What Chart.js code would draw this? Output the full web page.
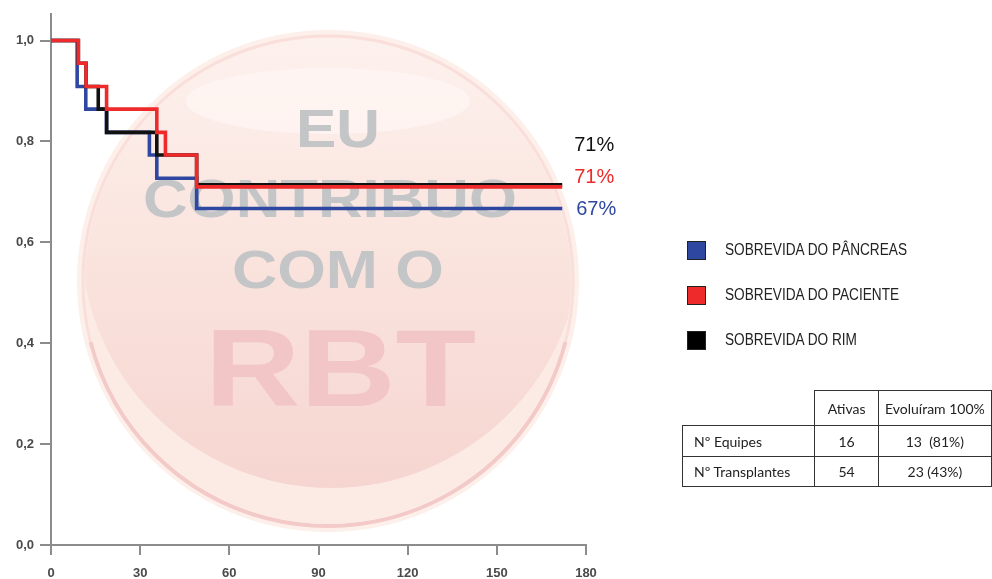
<!DOCTYPE html>
<html>
<head>
<meta charset="utf-8">
<script src="https://cdn.jsdelivr.net/npm/chart.js@4/dist/chart.umd.min.js"></script>
<style>
  html, body { margin: 0; padding: 0; background: #fff; }
  #wrap { position: relative; width: 992px; height: 579px; overflow: hidden; }
  #chart { position: absolute; left: 0; top: 0; }
  .legend { position: absolute; left: 687px; top: 240px; font-family: "Liberation Sans", Arial, sans-serif; font-size: 16px; color: #222; }
  .legend .item { display: flex; align-items: center; height: 20px; margin-bottom: 25px; white-space: nowrap; }
  .legend .box { width: 19px; height: 19px; box-sizing: border-box; border: 1px solid #222; margin-right: 19px; flex: none; }
  .legend .txt { display: inline-block; transform-origin: 0 50%; }
  table.stats { position: absolute; left: 682px; top: 390px; border-collapse: collapse; font-family: Lato, "Open Sans", sans-serif; font-size: 14px; color: #222; }
  table.stats td { border: 1px solid #333; padding: 0; text-align: center; }
  table.stats td.lbl { text-align: left; padding-left: 11px; }
  table.stats td.empty { border-top: none; border-left: none; }
</style>
</head>
<body>
<div id="wrap">
  <canvas id="chart" width="992" height="579"></canvas>
  <div class="legend" id="legend"></div>
  <table class="stats" id="stats"></table>
</div>
<script>
// survival data (months -> survival fraction)
const xTicks = [0, 30, 60, 90, 120, 150, 180];
const yTicks = [0, 0.2, 0.4, 0.6, 0.8, 1.0];

const pancreasTimes = [0, 8.8, 11.7, 18.7, 33.1, 35.6, 49, 172];
const pancreasSurv  = [1.0, 0.909, 0.864, 0.818, 0.773, 0.727, 0.667, 0.667];
const pacienteTimes = [0, 9.2, 11.8, 18.7, 35.6, 38.5, 49, 172];
const pacienteSurv  = [1.0, 0.955, 0.909, 0.864, 0.818, 0.773, 0.710, 0.710];
const rimTimes = [0, 9.2, 11.8, 15.9, 18.7, 35.6, 49, 172];
const rimSurv  = [1.0, 0.955, 0.909, 0.864, 0.818, 0.773, 0.714, 0.714];

const seriesNames  = ['SOBREVIDA DO PÂNCREAS', 'SOBREVIDA DO PACIENTE', 'SOBREVIDA DO RIM'];
const endLabels    = ['67%', '71%', '71%'];
const seriesColors = ['#2e47a0', '#ee2a2a', '#111111'];

const tableHeader = ['', 'Ativas', 'Evoluíram 100%'];
const tableRows = [
  ['Nº Equipes', '16', '13  (81%)'],
  ['Nº Transplantes', '54', '23 (43%)']
];

function toPoints(xs, ys) {
  return xs.map((x, i) => ({x: x, y: ys[i]}));
}

// legend + table (html)
var legendEl = document.getElementById('legend');
var txtSpans = [];
seriesNames.forEach((name, i) => {
  var it = document.createElement('div');
  it.className = 'item';
  it.innerHTML = '<span class="box" style="background:' + (i == 2 ? '#000' : seriesColors[i]) + '"></span><span class="txt">' + name + '</span>';
  legendEl.appendChild(it);
  txtSpans.push(it.querySelector('.txt'));
});
// condensed look: squeeze so the first label is ~182px wide
var squeeze = 182 / txtSpans[0].getBoundingClientRect().width;
txtSpans.forEach(s => { s.style.transform = 'scaleX(' + squeeze + ')'; });

var tbl = document.getElementById('stats');
var colW = [126, 68, 115];
var rowH = [34, 30, 29];
[tableHeader].concat(tableRows).forEach((row, r) => {
  var tr = document.createElement('tr');
  row.forEach((cell, c) => {
    var td = document.createElement('td');
    td.textContent = cell;
    td.style.width = colW[c] + 'px';
    td.style.height = rowH[r] + 'px';
    if (r == 0 && c == 0) td.className = 'empty';
    else if (c == 0) td.className = 'lbl';
    td.style.whiteSpace = 'pre';
    tr.appendChild(td);
  });
  tbl.appendChild(tr);
});

// background stamp behind the curves
const stampPlugin = {
  id: 'stamp',
  beforeDatasetsDraw(chart) {
    const ctx = chart.ctx;
    const cx = 328, cy = 281;
    ctx.save();
    // outer halo
    ctx.beginPath();
    ctx.arc(cx, cy, 251, 0, Math.PI * 2);
    ctx.fillStyle = '#fdefea';
    ctx.fill();
    // rim
    ctx.beginPath();
    ctx.arc(cx, cy, 245, 0, Math.PI * 2);
    ctx.strokeStyle = 'rgba(243,202,199,0.45)';
    ctx.lineWidth = 3;
    ctx.stroke();
    ctx.beginPath();
    ctx.arc(cx, cy, 245, 0.08 * Math.PI, 0.92 * Math.PI);
    ctx.strokeStyle = '#f3cac7';
    ctx.lineWidth = 4;
    ctx.stroke();
    // light band + inner disc clipped to the body
    ctx.save();
    ctx.beginPath();
    ctx.arc(cx, cy, 243, 0, Math.PI * 2);
    ctx.clip();
    ctx.fillStyle = '#fcebe5';
    ctx.fillRect(cx - 250, cy - 250, 500, 500);
    var g = ctx.createLinearGradient(0, 40, 0, 490);
    g.addColorStop(0, '#fdf1ed');
    g.addColorStop(0.5, '#fae3dd');
    g.addColorStop(1, '#f6d5d0');
    ctx.beginPath();
    ctx.arc(cx + 3, 238, 250, 0, Math.PI * 2);
    ctx.fillStyle = g;
    ctx.fill();
    ctx.restore();
    // top highlight
    ctx.beginPath();
    ctx.ellipse(cx, 101, 142, 33, 0, 0, Math.PI * 2);
    ctx.fillStyle = 'rgba(255,246,243,0.75)';
    ctx.fill();

    function boxText(txt, left, top, right, bottom, color) {
      var cap = bottom - top;
      var size = cap / 0.716;
      ctx.font = 'bold ' + size + 'px "Liberation Sans", Arial, sans-serif';
      var w = ctx.measureText(txt).width;
      ctx.save();
      ctx.translate(left, bottom);
      ctx.scale((right - left) / w, 1);
      ctx.fillStyle = color;
      ctx.textBaseline = 'alphabetic';
      ctx.textAlign = 'left';
      ctx.fillText(txt, 0, 0);
      ctx.restore();
    }
    boxText('EU', 296, 109, 380, 147, '#c3c5c7');
    boxText('CONTRIBUO', 143, 178, 517, 217, '#c3c5c7');
    boxText('COM O', 232, 249, 444, 288, '#c3c5c7');
    boxText('RBT', 205, 328, 476, 406, '#f2c6c6');
    ctx.restore();
  }
};

// percentage text at the end of each curve
const endLabelPlugin = {
  id: 'endLabel',
  afterDatasetsDraw(chart, args, opts) {
    const ctx = chart.ctx;
    ctx.save();
    ctx.font = '20px "Liberation Sans", Arial, sans-serif';
    ctx.textAlign = 'left';
    ctx.textBaseline = 'alphabetic';
    chart.data.datasets.forEach((ds, i) => {
      var meta = chart.getDatasetMeta(i);
      var last = meta.data[meta.data.length - 1];
      var off = opts.offsets[i];
      ctx.fillStyle = ds.borderColor;
      ctx.fillText(endLabels[i], last.x + off[0], last.y + off[1]);
    });
    ctx.restore();
  }
};

const axisColor = '#8c8c8c';
const tickFont = {family: '"Liberation Sans", Arial, sans-serif', size: 13, weight: 'bold'};

new Chart(document.getElementById('chart'), {
  type: 'line',
  data: {
    datasets: [
      {
        label: seriesNames[0],
        data: toPoints(pancreasTimes, pancreasSurv),
        borderColor: seriesColors[0],
        order: 3,
      },
      {
        label: seriesNames[1],
        data: toPoints(pacienteTimes, pacienteSurv),
        borderColor: seriesColors[1],
        order: 1,
      },
      {
        label: seriesNames[2],
        data: toPoints(rimTimes, rimSurv),
        borderColor: seriesColors[2],
        order: 2,
      },
    ]
  },
  options: {
    responsive: false,
    animation: false,
    datasets: {
      line: {
        stepped: 'before',
        borderWidth: 3.6,
        pointRadius: 0,
        fill: false,
        tension: 0,
      }
    },
    layout: {
      padding: {top: 12, right: 406, bottom: 0, left: 0}
    },
    scales: {
      x: {
        type: 'linear',
        min: 0,
        max: 180,
        afterBuildTicks: (scale) => { scale.ticks = xTicks.map(v => ({value: v})); },
        afterFit: (scale) => { scale.height = 34; },
        grid: {drawOnChartArea: false, drawTicks: true, tickLength: 10, color: axisColor, lineWidth: 2},
        border: {display: true, color: axisColor, width: 2},
        ticks: {font: tickFont, color: '#4a4a4a', padding: 11, maxRotation: 0}
      },
      y: {
        type: 'linear',
        min: 0,
        max: 1.053,
        afterBuildTicks: (scale) => { scale.ticks = yTicks.map(v => ({value: v})); },
        afterFit: (scale) => { scale.width = 51; },
        grid: {drawOnChartArea: false, drawTicks: true, tickLength: 11, color: axisColor, lineWidth: 2},
        border: {display: true, color: axisColor, width: 2},
        ticks: {
          font: tickFont,
          color: '#4a4a4a',
          padding: 6,
          callback: (v) => v.toFixed(1).replace('.', ',')
        }
      }
    },
    plugins: {
      legend: {display: false},
      tooltip: {enabled: false},
      endLabel: {offsets: [[14, 6], [12, -4], [12, -34]]}
    }
  },
  plugins: [stampPlugin, endLabelPlugin]
});
</script>
</body>
</html>
